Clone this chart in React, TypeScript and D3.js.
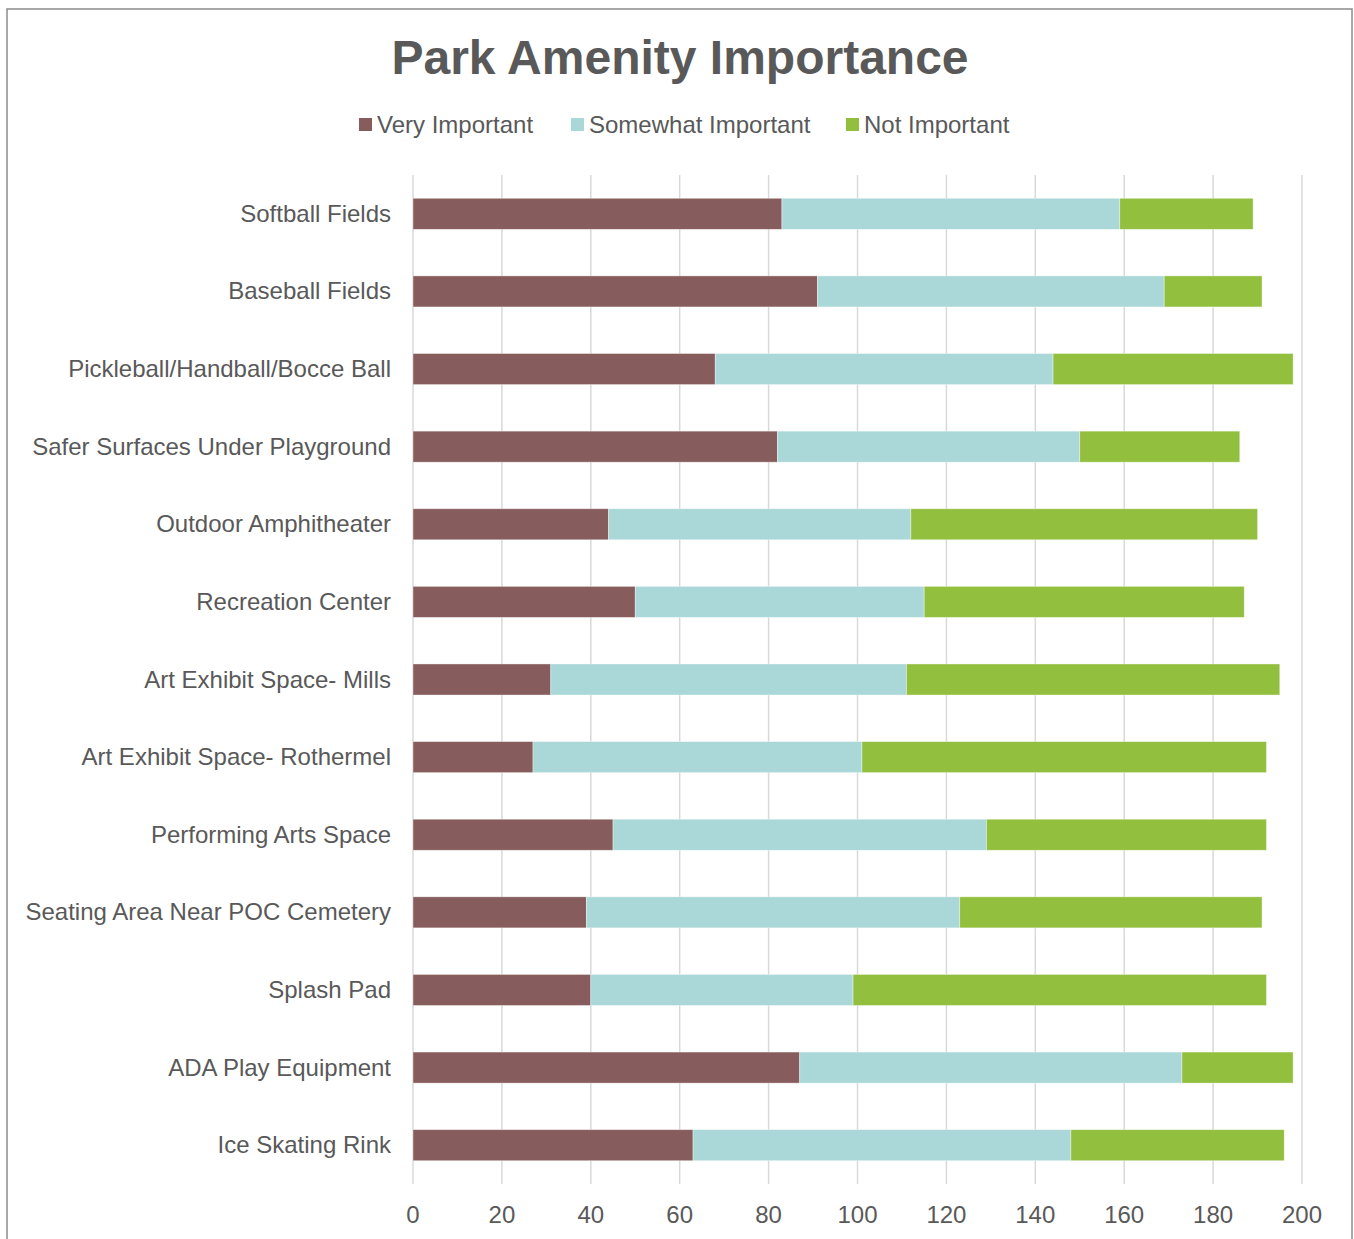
import React from "react";
import * as d3 from "d3";

const categories = [
  "Softball Fields",
  "Baseball Fields",
  "Pickleball/Handball/Bocce Ball",
  "Safer Surfaces Under Playground",
  "Outdoor Amphitheater",
  "Recreation Center",
  "Art Exhibit Space- Mills",
  "Art Exhibit Space- Rothermel",
  "Performing Arts Space",
  "Seating Area Near POC Cemetery",
  "Splash Pad",
  "ADA Play Equipment",
  "Ice Skating Rink",
];
const veryImportant = [83, 91, 68, 82, 44, 50, 31, 27, 45, 39, 40, 87, 63];
const somewhatImportant = [76, 78, 76, 68, 68, 65, 80, 74, 84, 84, 59, 86, 85];
const notImportant = [30, 22, 54, 36, 78, 72, 84, 91, 63, 68, 93, 25, 48];
const seriesNames = ["Very Important", "Somewhat Important", "Not Important"];
const seriesColors = ["#865D5C", "#AAD7D8", "#93BF3F"];
const xTicks = [0, 20, 40, 60, 80, 100, 120, 140, 160, 180, 200];

const W = 1354;
const H = 1239;
const FONT = "'Liberation Sans', Arial, sans-serif";
const TEXT = "#595959";

export default function App() {
  const x = d3.scaleLinear().domain([0, 200]).range([413, 1302]);
  const y = d3.scaleBand().domain(categories).range([175, 1184]).paddingInner(0.6).paddingOuter(0.3);

  const rows = categories.map((c, i) => ({
    cat: c,
    v: [veryImportant[i], somewhatImportant[i], notImportant[i]],
  }));
  const stack = d3
    .stack<{ cat: string; v: number[] }, number>()
    .keys([0, 1, 2])
    .value((d, k) => d.v[k]);
  const layers = stack(rows);

  const legendX = [359, 571, 846];

  return (
    <svg
      width={W}
      height={H}
      style={{ position: "absolute", left: 0, top: 0, background: "#fff" }}
      fontFamily={FONT}
    >
      <rect x={7} y={9} width={1345} height={1260} fill="#fff" stroke="#8c8c8c" strokeWidth={1.5} />
      <text x={680} y={74} textAnchor="middle" fontSize={48} fontWeight="bold" fill={TEXT}>
        Park Amenity Importance
      </text>
      {seriesNames.map((s, i) => (
        <g key={s}>
          <rect x={legendX[i]} y={118} width={13} height={13} fill={seriesColors[i]} />
          <text x={legendX[i] + 18} y={133} fontSize={24} fill={TEXT}>
            {s}
          </text>
        </g>
      ))}
      {xTicks.map((t) => (
        <g key={t}>
          <line x1={x(t)} x2={x(t)} y1={175} y2={1184} stroke="#d9d9d9" strokeWidth={1.5} />
          <text x={x(t)} y={1223} textAnchor="middle" fontSize={24} fill={TEXT}>
            {t}
          </text>
        </g>
      ))}
      {layers.map((layer, li) => (
        <g key={li}>
          {layer.map((d, i) => (
            <rect
              key={i}
              x={x(d[0])}
              y={y(categories[i])}
              width={x(d[1]) - x(d[0])}
              height={y.bandwidth()}
              fill={seriesColors[li]}
              stroke="#fff"
              strokeOpacity={0.5}
              strokeWidth={0.75}
            />
          ))}
        </g>
      ))}
      {categories.map((c) => (
        <text
          key={c}
          x={391}
          y={(y(c) as number) + y.bandwidth() / 2 + 8}
          textAnchor="end"
          fontSize={24}
          fill={TEXT}
        >
          {c}
        </text>
      ))}
    </svg>
  );
}
